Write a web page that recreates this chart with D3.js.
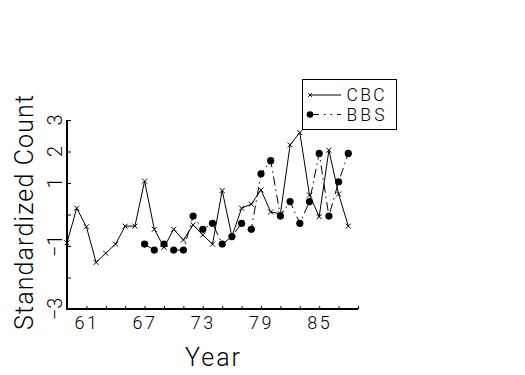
<!DOCTYPE html>
<html>
<head>
<meta charset="utf-8">
<script src="https://cdn.jsdelivr.net/npm/d3@7"></script>
<style>
  html, body { margin: 0; padding: 0; background: #fff; }
  svg { display: block; }
  text { font-family: Roboto, "Liberation Sans", sans-serif; font-weight: 300; fill: #000; }
</style>
</head>
<body>
<svg id="chart" width="525" height="375"></svg>
<script>
// ---- data ----
const cbcYears = [59,60,61,62,63,64,65,66,67,68,69,70,71,72,73,74,75,76,77,78,79,80,81,82,83,84,85,86,87,88];
const cbcValues = [-0.90,0.20,-0.39,-1.52,-1.23,-0.94,-0.37,-0.37,1.06,-0.47,-1.04,-0.47,-0.81,-0.33,-0.65,-0.94,0.76,-0.70,0.20,0.33,0.78,0.08,0.02,2.21,2.60,0.62,-0.07,2.04,0.65,-0.37];
const bbsYears = [67,68,69,70,71,72,73,74,75,76,77,78,79,80,81,82,83,84,85,86,87,88];
const bbsValues = [-0.94,-1.13,-0.94,-1.13,-1.13,-0.05,-0.47,-0.28,-0.94,-0.70,-0.28,-0.47,1.29,1.71,-0.05,0.41,-0.28,0.41,1.94,-0.05,1.04,1.94];
const xTicks = [61,63,65,67,69,71,73,75,77,79,81,83,85,87,89];
const xTickLabels = ["61","67","73","79","85"];
const yTicks = [3,2,1,0,-1,-2,-3];
const yTickLabels = ["3","2","1","\u22121","\u22123"];
const seriesNames = ["CBC","BBS"];

const svg = d3.select("#chart");
const x = d3.scaleLinear().domain([59, 89]).range([67, 358]);
const y = d3.scaleLinear().domain([-3, 3]).range([309, 120]);

// axes
const xAxis = d3.axisBottom(x).tickValues(xTicks).tickSize(-3).tickFormat(d => xTickLabels.includes(String(d)) ? String(d) : "");
const gx = svg.append("g").attr("transform", `translate(0,${y(-3)})`).call(xAxis);
gx.select(".domain").attr("stroke", "#000").attr("stroke-width", 2).attr("d", `M${x(59)-1},0H${x(89)}`);
gx.selectAll(".tick line").attr("stroke", "#000").attr("stroke-width", 1);
gx.selectAll(".tick text").attr("y", 20).attr("dy", 0)
  .style("font-size", "18px").attr("letter-spacing", "2.5px");

const yAxis = d3.axisLeft(y).tickValues(yTicks).tickSize(-4).tickFormat(() => "");
const gy = svg.append("g").attr("transform", `translate(${x(59)},0)`).call(yAxis);
gy.select(".domain").attr("stroke", "#000").attr("stroke-width", 2).attr("d", `M0,${y(-3)}V${y(3)}`);
gy.selectAll(".tick line").attr("stroke", "#000").attr("stroke-width", 1);

// rotated y tick labels
const labelVals = yTicks.filter(v => yTickLabels.includes(v < 0 ? "\u2212" + Math.abs(v) : String(v)));
svg.append("g").selectAll("text").data(labelVals).join("text")
  .attr("transform", d => `translate(62,${y(d)}) rotate(-90)`)
  .attr("text-anchor", "middle")
  .style("font-size", "20px")
  .text(d => d < 0 ? "\u2212" + Math.abs(d) : String(d));

// axis titles
svg.append("text")
  .attr("transform", `translate(33,212.5) rotate(-90)`)
  .attr("text-anchor", "middle")
  .attr("textLength", 235).attr("lengthAdjust", "spacing")
  .style("font-size", "25px")
  .text("Standardized Count");
svg.append("text")
  .attr("x", 212.5).attr("y", 366)
  .attr("text-anchor", "middle")
  .attr("textLength", 55).attr("lengthAdjust", "spacing")
  .style("font-size", "25px")
  .text("Year");

// series
const cbc = cbcYears.map((yr, i) => ({yr, v: cbcValues[i]}));
const bbs = bbsYears.map((yr, i) => ({yr, v: bbsValues[i]}));
const line = d3.line().x(d => x(d.yr)).y(d => y(d.v));
const bbsDash = "9,4,1.5,4";

svg.append("path").datum(cbc).attr("d", line)
  .attr("fill", "none").attr("stroke", "#000").attr("stroke-width", 1);
svg.append("path").datum(bbs).attr("d", line)
  .attr("fill", "none").attr("stroke", "#000").attr("stroke-width", 1)
  .attr("stroke-dasharray", bbsDash);

const cross = (sel, s) => sel.append("path")
  .attr("d", `M${-s},${-s}L${s},${s}M${-s},${s}L${s},${-s}`)
  .attr("stroke", "#000").attr("stroke-width", 1).attr("fill", "none");

svg.append("g").selectAll("g").data(cbc).join("g")
  .attr("transform", d => `translate(${x(d.yr)},${y(d.v)})`)
  .each(function() { cross(d3.select(this), 2.5); });

svg.append("g").selectAll("circle").data(bbs).join("circle")
  .attr("cx", d => x(d.yr)).attr("cy", d => y(d.v)).attr("r", 3.6)
  .attr("fill", "#000");

// legend
const lg = svg.append("g");
lg.append("rect").attr("x", 302.5).attr("y", 79.5).attr("width", 94).attr("height", 50)
  .attr("fill", "#fff").attr("stroke", "#000").attr("stroke-width", 1);
const rows = [95, 114.5];
seriesNames.forEach((name, i) => {
  const ry = rows[i];
  const l = lg.append("line").attr("x1", 309).attr("x2", 341).attr("y1", ry).attr("y2", ry)
    .attr("stroke", "#000").attr("stroke-width", 1);
  if (i === 0) {
    cross(lg.append("g").attr("transform", `translate(310,${ry})`), 1.8);
  } else {
    l.attr("stroke-dasharray", "10,5,1.5,5,1.5,5");
    lg.append("circle").attr("cx", 310).attr("cy", ry).attr("r", 3.3).attr("fill", "#000");
  }
  lg.append("text").attr("x", 346.5).attr("y", ry + 6)
    .attr("textLength", 38).attr("lengthAdjust", "spacing")
    .style("font-size", "17.5px").text(name);
});
</script>
</body>
</html>
